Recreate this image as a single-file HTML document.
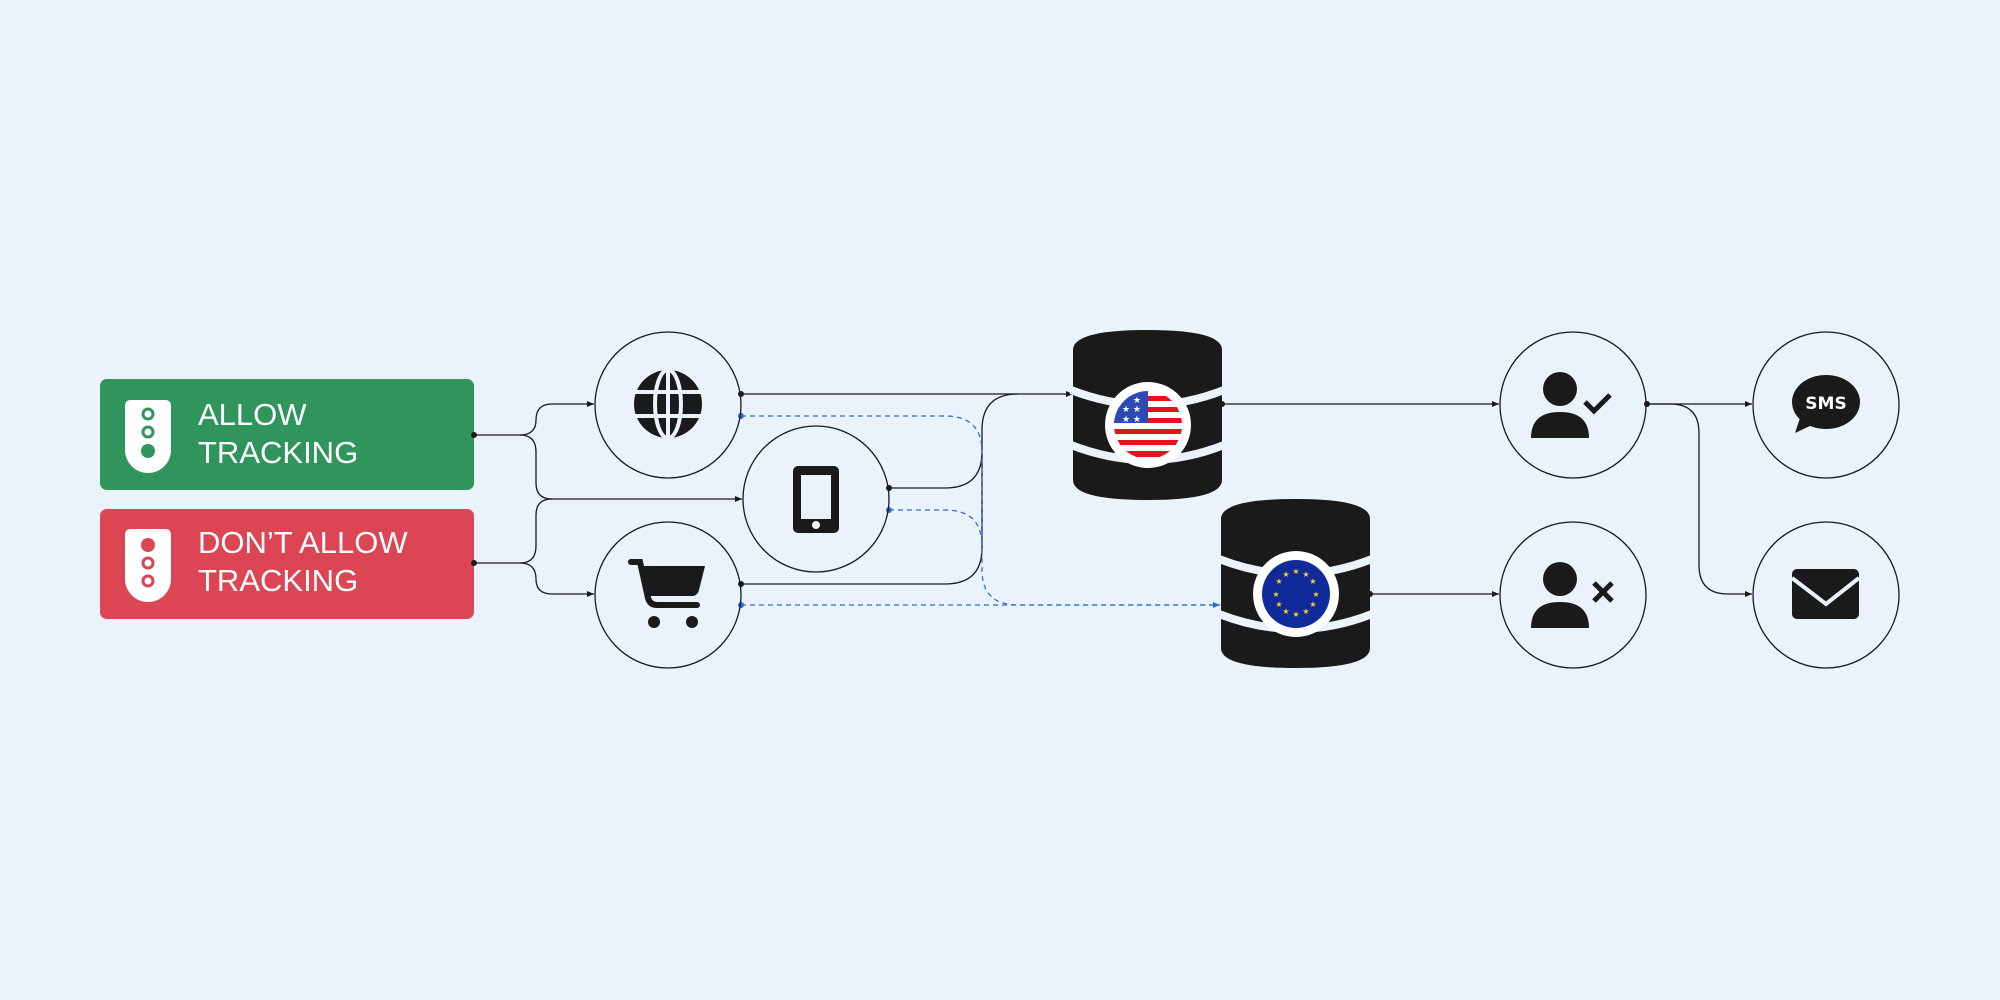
<!DOCTYPE html>
<html><head><meta charset="utf-8"><style>
html,body{margin:0;padding:0;background:#EAF2FC;}
svg{display:block}
</style></head><body>
<svg width="2000" height="1000" viewBox="0 0 2000 1000" xmlns="http://www.w3.org/2000/svg">
<defs>
<marker id="ar" markerWidth="8" markerHeight="8" refX="7" refY="3" orient="auto" markerUnits="userSpaceOnUse"><path d="M0,0 L7,3 L0,6z" fill="#1a1a1a"/></marker>
<marker id="ab" markerWidth="8" markerHeight="8" refX="7" refY="3" orient="auto" markerUnits="userSpaceOnUse"><path d="M0,0 L7,3 L0,6z" fill="#2F6FD0"/></marker>
<clipPath id="cu"><circle cx="1148" cy="425" r="34"/></clipPath>
</defs>
<rect width="2000" height="1000" fill="#EAF2FC"/>

<rect x="100" y="379" width="374" height="111" rx="7" fill="#2F955C"/>
<rect x="100" y="509" width="374" height="110" rx="7" fill="#DC4654"/>
<g font-family="Liberation Sans, sans-serif" font-size="31" fill="#fff">
<text x="198" y="425">ALLOW</text><text x="198" y="463">TRACKING</text>
<text x="198" y="553">DON’T ALLOW</text><text x="198" y="591">TRACKING</text>
</g>
<path d="M125,406 q0,-6 6,-6 h34 q6,0 6,6 v44 a23,23 0 0 1 -46,0z" fill="#fff"/>
<circle cx="148" cy="414" r="5" fill="none" stroke="#2F955C" stroke-width="3"/>
<circle cx="148" cy="432" r="5" fill="none" stroke="#2F955C" stroke-width="3"/>
<circle cx="148" cy="451" r="7" fill="#2F955C"/>
<path d="M125,535 q0,-6 6,-6 h34 q6,0 6,6 v44 a23,23 0 0 1 -46,0z" fill="#fff"/>
<circle cx="148" cy="545" r="7" fill="#DC4654"/>
<circle cx="148" cy="563" r="5" fill="none" stroke="#DC4654" stroke-width="3"/>
<circle cx="148" cy="581" r="5" fill="none" stroke="#DC4654" stroke-width="3"/>

<g fill="none" stroke="#1a1a1a" stroke-width="1.3">
<path d="M474,435 H520 Q536,435 536,420 Q536,404 552,404 H594" marker-end="url(#ar)"/>
<path d="M520,435 Q536,435 536,452 V483 Q536,499 552,499 H742" marker-end="url(#ar)"/>
<path d="M474,563 H520 Q536,563 536,546 V515 Q536,499 552,499"/>
<path d="M520,563 Q536,563 536,579 Q536,594 552,594 H594" marker-end="url(#ar)"/>
<path d="M741,394 H1073" marker-end="url(#ar)"/>
<path d="M889,488 H945 Q982,488 982,452 V430 Q982,394 1018,394"/>
<path d="M741,584 H945 Q982,584 982,548 V452"/>
<path d="M1222,404 H1499" marker-end="url(#ar)"/>
<path d="M1370,594 H1499" marker-end="url(#ar)"/>
<path d="M1647,404 H1752" marker-end="url(#ar)"/>
<path d="M1647,404 H1670 Q1699,404 1699,433 V565 Q1699,594 1728,594 H1752" marker-end="url(#ar)"/>
</g>
<g fill="none" stroke="#2F6FD0" stroke-width="1.3" stroke-dasharray="5,4">
<path d="M741,416 H945 Q982,416 982,452 V570 Q982,605 1018,605 H1220" marker-end="url(#ab)"/>
<path d="M889,510 H945 Q982,510 982,546"/>
<path d="M741,605 H1220"/>
</g>
<g fill="#1a1a1a">
<circle cx="474" cy="435" r="3"/><circle cx="474" cy="563" r="3"/>
<circle cx="741" cy="394" r="3"/><circle cx="741" cy="584" r="3"/>
<circle cx="889" cy="488" r="3"/><circle cx="1222" cy="404" r="3"/>
<circle cx="1370" cy="594" r="3"/><circle cx="1647" cy="404" r="3"/>
</g>
<g fill="#2F6FD0"><circle cx="741" cy="416" r="3"/><circle cx="741" cy="605" r="3"/><circle cx="889" cy="510" r="3"/></g>

<g fill="none" stroke="#1a1a1a" stroke-width="1.3">
<circle cx="668" cy="405" r="73"/><circle cx="816" cy="499" r="73"/><circle cx="668" cy="595" r="73"/>
<circle cx="1573" cy="405" r="73"/><circle cx="1573" cy="595" r="73"/>
<circle cx="1826" cy="405" r="73"/><circle cx="1826" cy="595" r="73"/>
</g>

<circle cx="668" cy="404" r="34" fill="#1a1a1a"/>
<g stroke="#EAF2FC" stroke-width="4" fill="none">
<ellipse cx="668" cy="404" rx="13" ry="34"/>
<line x1="630" y1="392" x2="706" y2="392"/><line x1="630" y1="416" x2="706" y2="416"/>
<line x1="668" y1="368" x2="668" y2="440"/>
</g>
<rect x="793" y="466" width="46" height="67" rx="5" fill="#1a1a1a"/>
<rect x="801" y="475" width="30" height="44" fill="#EAF2FC"/>
<circle cx="816" cy="525" r="4" fill="#EAF2FC"/>
<path d="M631,562 H640 L648,598 Q650,605 657,605 H697" fill="none" stroke="#1a1a1a" stroke-width="6" stroke-linecap="round"/>
<path d="M643,566 H705 L699,590 Q698,595 693,596 H650z" fill="#1a1a1a"/>
<circle cx="654" cy="622" r="6" fill="#1a1a1a"/><circle cx="692" cy="622" r="6" fill="#1a1a1a"/>

<g>
<path d="M1073,350 Q1073,330 1148,330 Q1222,330 1222,350 V480 Q1222,500 1148,500 Q1073,500 1073,480z" fill="#1a1a1a"/>
<path d="M1071,390 Q1148,420 1224,390" stroke="#EAF2FC" stroke-width="8" fill="none"/>
<path d="M1071,445 Q1148,475 1224,445" stroke="#EAF2FC" stroke-width="8" fill="none"/>
<circle cx="1148" cy="425" r="43" fill="#fff"/>
<g clip-path="url(#cu)">
<rect x="1110" y="390" width="80" height="70" fill="#fff"/>
<g fill="#E3131E"><rect x="1110" y="396" width="80" height="5"/><rect x="1110" y="407" width="80" height="5"/><rect x="1110" y="418" width="80" height="5"/><rect x="1110" y="429" width="80" height="5"/><rect x="1110" y="440" width="80" height="5"/><rect x="1110" y="451" width="80" height="6"/></g>
<rect x="1110" y="390" width="38" height="33" fill="#2D49B5"/>
<g fill="#fff" font-size="9" font-family="DejaVu Sans, sans-serif"><text x="1133" y="403">★</text><text x="1122" y="412">★ ★</text><text x="1122" y="422">★ ★</text></g>
</g>
</g>
<g>
<path d="M1221,519 Q1221,499 1296,499 Q1370,499 1370,519 V648 Q1370,668 1296,668 Q1221,668 1221,648z" fill="#1a1a1a"/>
<path d="M1219,559 Q1296,589 1372,559" stroke="#EAF2FC" stroke-width="8" fill="none"/>
<path d="M1219,614 Q1296,644 1372,614" stroke="#EAF2FC" stroke-width="8" fill="none"/>
<circle cx="1296" cy="594" r="43" fill="#fff"/>
<circle cx="1296" cy="594" r="34" fill="#102A9C"/>
<g fill="#F5D320" font-size="8" font-family="DejaVu Sans, sans-serif" text-anchor="middle">
<text x="1296" y="574">★</text><text x="1306" y="577">★</text><text x="1313" y="584">★</text><text x="1316" y="597">★</text><text x="1313" y="607">★</text><text x="1306" y="614">★</text>
<text x="1296" y="617">★</text><text x="1286" y="614">★</text><text x="1279" y="607">★</text><text x="1276" y="597">★</text><text x="1279" y="584">★</text><text x="1286" y="577">★</text>
</g>
</g>

<circle cx="1560" cy="389" r="17" fill="#1a1a1a"/>
<path d="M1531,438 Q1531,412 1560,412 Q1589,412 1589,438z" fill="#1a1a1a"/>
<path d="M1585,402 L1594,411 L1610,395" fill="none" stroke="#1a1a1a" stroke-width="5"/>
<circle cx="1560" cy="579" r="17" fill="#1a1a1a"/>
<path d="M1531,628 Q1531,602 1560,602 Q1589,602 1589,628z" fill="#1a1a1a"/>
<path d="M1594,583 L1612,601 M1612,583 L1594,601" stroke="#1a1a1a" stroke-width="5"/>
<ellipse cx="1826" cy="402" rx="34" ry="27" fill="#1a1a1a"/>
<path d="M1795,433 L1800,418 L1812,425z" fill="#1a1a1a"/>
<text x="1826" y="409" font-family="DejaVu Sans, sans-serif" font-weight="bold" font-size="17" fill="#fff" text-anchor="middle">SMS</text>
<rect x="1792" y="569" width="67" height="50" rx="5" fill="#1a1a1a"/>
<path d="M1792,578 L1826,604 L1859,578" fill="none" stroke="#EAF2FC" stroke-width="4"/>
</svg>
</body></html>
